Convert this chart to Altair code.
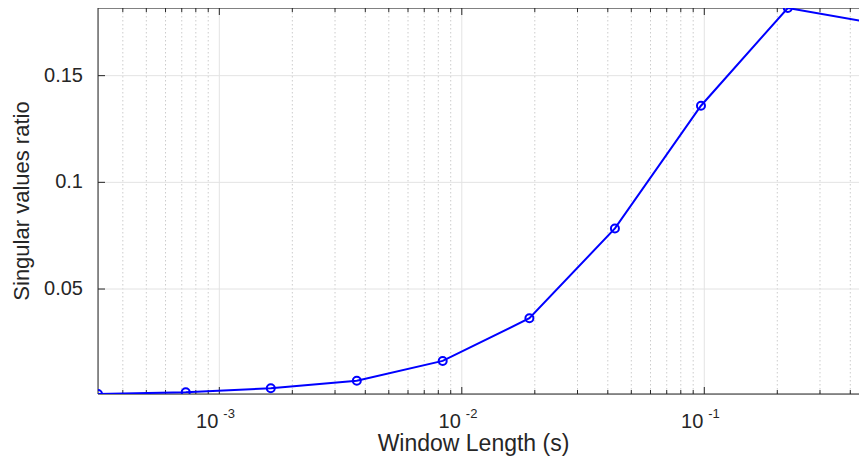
import altair as alt
import pandas as pd

# ---- data ----
window_length = [3.16e-4, 7.27e-4, 1.63e-3, 3.69e-3, 8.34e-3, 1.90e-2, 4.28e-2, 9.69e-2, 0.221, 0.5]
sv_ratio = [0.0008, 0.0016, 0.0035, 0.0070, 0.0163, 0.0363, 0.0784, 0.1359, 0.1817, 0.1746]

major_x = [1e-3, 1e-2, 1e-1]
exponents = ["-3", "-2", "-1"]
y_ticks = [0.05, 0.1, 0.15]
y_labels = ["0.05", "0.1", "0.15"]

X_DOMAIN = [3.16e-4, 0.4345]
Y_DOMAIN = [0.0008, 0.1817]

minor_x = [m * 10.0 ** e for e in range(-4, 0) for m in range(2, 10)
           if X_DOMAIN[0] <= m * 10.0 ** e <= X_DOMAIN[1]]

W, H = 761, 386
TXT = "#262626"
GRID = "#e3e3e3"
FONT = "Liberation Sans"

df = pd.DataFrame({"x": window_length, "y": sv_ratio})
major_df = pd.DataFrame({"v": major_x, "e": exponents})
minor_df = pd.DataFrame({"v": minor_x})
ytick_df = pd.DataFrame({"v": y_ticks, "lab": y_labels})
one = pd.DataFrame({"a": [0]})

xscale = alt.Scale(type="log", domain=X_DOMAIN, nice=False)
yscale = alt.Scale(domain=Y_DOMAIN, nice=False, zero=False)

def X(field):
    return alt.X(field, scale=xscale, axis=None)

def Y(field):
    return alt.Y(field, scale=yscale, axis=None)

# grids
minor_grid = alt.Chart(minor_df).mark_rule(color="#cccccc", strokeDash=[1.5, 2.5], strokeWidth=1).encode(
    x=X("v:Q"), y=alt.value(0), y2=alt.value(H))
major_grid = alt.Chart(major_df).mark_rule(color=GRID, strokeWidth=1).encode(
    x=X("v:Q"), y=alt.value(0), y2=alt.value(H))
y_grid = alt.Chart(ytick_df).mark_rule(color=GRID, strokeWidth=1).encode(
    y=Y("v:Q"), x=alt.value(0), x2=alt.value(W))

# axis lines / box
left_line = alt.Chart(one).mark_rule(color=TXT, strokeWidth=1).encode(
    x=alt.value(0), y=alt.value(0), y2=alt.value(H))
bottom_line = alt.Chart(one).mark_rule(color=TXT, strokeWidth=1).encode(
    x=alt.value(0), x2=alt.value(W), y=alt.value(H))
top_line = alt.Chart(one).mark_rule(color=TXT, strokeWidth=1).encode(
    x=alt.value(0), x2=alt.value(W), y=alt.value(0))

def xticks(data, length, top):
    if top:
        return alt.Chart(data).mark_rule(color=TXT, strokeWidth=1).encode(
            x=X("v:Q"), y=alt.value(0), y2=alt.value(length))
    return alt.Chart(data).mark_rule(color=TXT, strokeWidth=1).encode(
        x=X("v:Q"), y=alt.value(H), y2=alt.value(H - length))

left_ticks = alt.Chart(ytick_df).mark_rule(color=TXT, strokeWidth=1).encode(
    y=Y("v:Q"), x=alt.value(0), x2=alt.value(7))

# data
line = alt.Chart(df).mark_line(color="#0000ff", strokeWidth=2, clip=True).encode(
    x=X("x:Q"), y=Y("y:Q"))
points = alt.Chart(df).mark_point(shape="circle", filled=False, color="#0000ff",
                                  size=64, strokeWidth=2, opacity=1, clip=True).encode(
    x=X("x:Q"), y=Y("y:Q"))

# tick labels
base_lbl = alt.Chart(major_df).mark_text(align="right", baseline="alphabetic", fontSize=20,
                                         font=FONT, color=TXT, dx=-1).encode(
    x=X("v:Q"), y=alt.value(H + 34), text=alt.value("10"))
exp_lbl = alt.Chart(major_df).mark_text(align="left", baseline="alphabetic", fontSize=13,
                                        font=FONT, color=TXT, dx=4).encode(
    x=X("v:Q"), y=alt.value(H + 24), text="e:N")
y_lbl = alt.Chart(ytick_df).mark_text(align="right", baseline="middle", fontSize=20,
                                      font=FONT, color=TXT).encode(
    y=Y("v:Q"), x=alt.value(-15), text="lab:N")

# axis titles
x_title = alt.Chart(one).mark_text(align="center", baseline="alphabetic", fontSize=23,
                                   font=FONT, color=TXT, text="Window Length (s)").encode(
    x=alt.value(375.5), y=alt.value(H + 57))
y_title = alt.Chart(one).mark_text(align="center", baseline="middle", fontSize=22, angle=270,
                                   font=FONT, color=TXT, text="Singular values ratio").encode(
    x=alt.value(-76), y=alt.value(H / 2))

chart = alt.layer(
    minor_grid, major_grid, y_grid,
    left_line, bottom_line, top_line,
    xticks(major_df, 7, False), xticks(minor_df, 4, False),
    xticks(major_df, 7, True), xticks(minor_df, 4, True),
    left_ticks,
    line, points, base_lbl, exp_lbl, y_lbl, x_title, y_title,
).properties(
    width=W, height=H,
    autosize=alt.AutoSizeParams(type="none"),
    padding={"left": 90, "top": 0, "right": 0, "bottom": 62},
).configure_view(stroke=None).configure(font=FONT)

chart.save("out.html", embed_options={"renderer": "svg", "actions": False})
